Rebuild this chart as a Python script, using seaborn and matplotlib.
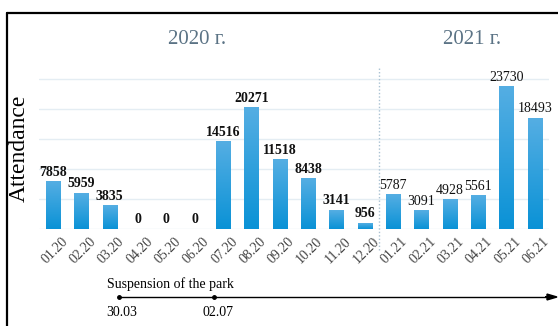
import numpy as np
import pandas as pd
import matplotlib
matplotlib.use("Agg")
import matplotlib.pyplot as plt
import seaborn as sns
from matplotlib.colors import LinearSegmentedColormap
from matplotlib.lines import Line2D
import matplotlib.transforms as mtransforms

months = ["01.20", "02.20", "03.20", "04.20", "05.20", "06.20", "07.20", "08.20",
          "09.20", "10.20", "11.20", "12.20", "01.21", "02.21", "03.21", "04.21",
          "05.21", "06.21"]
attendance = [7858, 5959, 3835, 0, 0, 0, 14516, 20271, 11518, 8438, 3141, 956,
              5787, 3091, 4928, 5561, 23730, 18493]
year_titles = ["2020 г.", "2021 г."]
timeline_caption = "Suspension of the park"
timeline_dates = ["30.03", "02.07"]

sns.set_theme(style="white")
plt.rcParams["font.family"] = ["Liberation Serif", "DejaVu Serif"]

df = pd.DataFrame({"month": months, "attendance": attendance})

fig = plt.figure(figsize=(5.58, 3.26), dpi=100)
ax = fig.add_axes([38.8 / 558, 97 / 326, 510 / 558, 156 / 326])

sns.barplot(data=df, x="month", y="attendance", color="#1a9ad9", width=0.5,
            ax=ax, zorder=3)

cmap = LinearSegmentedColormap.from_list("bar", ["#0a92d6", "#55aee3"])
grad = np.linspace(0, 1, 256).reshape(-1, 1)
for p in ax.patches:
    h = p.get_height()
    x0 = p.get_x()
    w = p.get_width()
    p.set_facecolor("none")
    p.set_edgecolor("none")
    if h > 0:
        ax.imshow(grad, extent=(x0, x0 + w, 0, h), origin="lower", cmap=cmap,
                  aspect="auto", zorder=3)

ax.set_xlim(-0.5, len(months) - 0.5)
ax.set_ylim(0, 26000)
ax.set_yticks([0, 5000, 10000, 15000, 20000, 25000])
ax.set_yticklabels([])
ax.grid(axis="y", color="#e4edf3", lw=1, zorder=0)
ax.grid(axis="x", visible=False)
for s in ax.spines.values():
    s.set_visible(False)
ax.tick_params(axis="both", length=0)
ax.set_xlabel("")
ax.set_ylabel("")

ax.set_xticks(range(len(months)))
ax.set_xticklabels(months, rotation=45, ha="right", rotation_mode="anchor",
                   fontsize=10, color="#444444")
offset = mtransforms.ScaledTranslation(8 / 100, -1 / 100, fig.dpi_scale_trans)
for lbl in ax.get_xticklabels():
    lbl.set_transform(lbl.get_transform() + offset)

for i, v in enumerate(attendance):
    ax.annotate(str(v), (i, v), xytext=(0, 2), textcoords="offset points",
                ha="center", va="bottom", fontsize=10,
                fontweight="bold" if i < 12 else "normal", color="#111111",
                zorder=5)

# separator between years
ax.add_line(Line2D([11.5, 11.5], [-0.135, 1.032],
                   transform=ax.get_xaxis_transform(), color="#a9c1d2",
                   lw=1, ls=(0, (1, 1.5)), clip_on=False, zorder=2))

# year titles
fig.text(197 / 558, 1 - 39 / 326, year_titles[0], ha="center", va="center",
         fontsize=15, color="#5b7385")
fig.text(472 / 558, 1 - 39 / 326, year_titles[1], ha="center", va="center",
         fontsize=15, color="#5b7385")

# y label
fig.text(19 / 558, 1 - 148 / 326, "Attendance", rotation=90, ha="center",
         va="center", fontsize=17, color="black")

# timeline
fig.text(170 / 558, 1 - 284 / 326, timeline_caption, ha="center", va="center",
         fontsize=10, color="black")
fig.add_artist(plt.Line2D([119 / 558, 550 / 558], [1 - 297 / 326, 1 - 297 / 326],
                          color="black", lw=1))
fig.patches.append(matplotlib.patches.FancyArrow(
    545 / 558, 1 - 297 / 326, 12 / 558, 0, width=0.0, head_width=0.018,
    head_length=10 / 558, length_includes_head=True, color="black",
    transform=fig.transFigure, figure=fig))
for xp in (119, 214):
    fig.add_artist(plt.Line2D([xp / 558], [1 - 297 / 326], marker="o",
                              markersize=2.5, color="black"))
fig.text(122 / 558, 1 - 312 / 326, timeline_dates[0], ha="center", va="center",
         fontsize=10, color="black")
fig.text(218 / 558, 1 - 312 / 326, timeline_dates[1], ha="center", va="center",
         fontsize=10, color="black")

# frame
fig.add_artist(plt.Line2D([7 / 558, 1], [1 - 13 / 326, 1 - 13 / 326],
                          color="black", lw=1.6))
fig.add_artist(plt.Line2D([7 / 558, 7 / 558], [0, 1 - 13 / 326],
                          color="black", lw=1.6))

fig.savefig("out.png", dpi=100)
